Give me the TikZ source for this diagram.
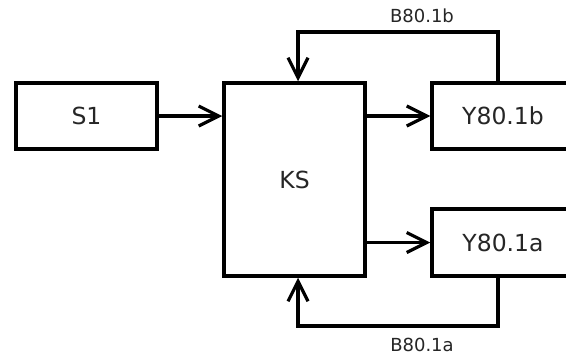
\documentclass[tikz,border=0pt]{standalone}
\usepackage{fontspec}
\setmainfont{DejaVu Sans}
\usetikzlibrary{arrows.meta}
\begin{document}
\begin{tikzpicture}[x=1pt,y=-1pt,
  blk/.style={draw=black,line width=3.5pt,inner sep=0pt,font=\fontsize{23.5}{23.5}\selectfont,text=black!85},
  arr/.style={line width=3.6pt,-{Straight Barb[length=20pt,width=20pt,line width=3.2pt]}},
  lbl/.style={inner sep=0pt,font=\fontsize{18}{18}\selectfont,text=black!85}]
\useasboundingbox[fill=white] (0,0) rectangle (566,356);
\node[blk,minimum width=141pt,minimum height=66pt] (S1) at (86.5,116) {S1};
\node[blk,minimum width=141pt,minimum height=193pt] (KS) at (294.5,179.5) {KS};
\node[blk,minimum width=142pt,minimum height=66pt] (Yb) at (503,116) {Y80.1b};
\node[blk,minimum width=142pt,minimum height=67pt] (Ya) at (503,242.5) {Y80.1a};
\node[lbl] (lb) at (422,15.5) {B80.1b};
\node[lbl] (la) at (422,345) {B80.1a};
\coordinate (tR) at (498,32);
\coordinate (tL) at (298,32);
\coordinate (bR) at (498,326);
\coordinate (bL) at (298,326);
\draw[arr] (S1.east) -- (KS.west |- S1.east);
\draw[arr] (KS.east |- Yb.west) -- (Yb.west);
\draw[arr] (KS.east |- Ya.west) -- (Ya.west);
\draw[arr,line join=miter] (Yb.north -| tR) -- (tR) -- (tL) -- (KS.north -| tL);
\draw[arr,line join=miter] (Ya.south -| bR) -- (bR) -- (bL) -- (KS.south -| bL);
\end{tikzpicture}
\end{document}
